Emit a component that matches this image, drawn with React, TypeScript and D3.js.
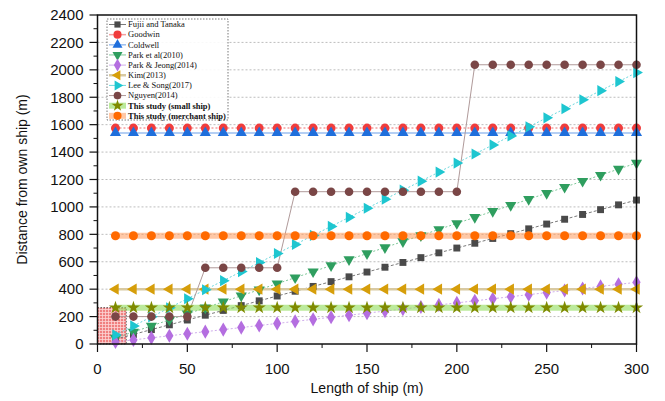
import * as d3 from "d3";

// ship length (m)
const lengths = [10, 20, 30, 40, 50, 60, 70, 80, 90, 100, 110, 120, 130, 140, 150, 160, 170, 180, 190, 200, 210, 220, 230, 240, 250, 260, 270, 280, 290, 300];

const fujiiTanaka = [35, 70, 105, 140, 175, 210, 245, 280, 315, 350, 385, 420, 455, 490, 525, 560, 595, 630, 665, 700, 735, 770, 805, 840, 875, 910, 945, 980, 1015, 1050];
const goodwin = [1575, 1575, 1575, 1575, 1575, 1575, 1575, 1575, 1575, 1575, 1575, 1575, 1575, 1575, 1575, 1575, 1575, 1575, 1575, 1575, 1575, 1575, 1575, 1575, 1575, 1575, 1575, 1575, 1575, 1575];
const coldwell = [1540, 1540, 1540, 1540, 1540, 1540, 1540, 1540, 1540, 1540, 1540, 1540, 1540, 1540, 1540, 1540, 1540, 1540, 1540, 1540, 1540, 1540, 1540, 1540, 1540, 1540, 1540, 1540, 1540, 1540];
const park2010 = [44, 88, 132, 176, 220, 264, 308, 352, 396, 440, 484, 528, 572, 616, 660, 704, 748, 792, 836, 880, 924, 968, 1012, 1056, 1100, 1144, 1188, 1232, 1276, 1320];
const parkJeong = [15, 30, 45, 60, 75, 90, 105, 120, 135, 150, 165, 180, 195, 210, 225, 240, 255, 270, 285, 300, 315, 330, 345, 360, 375, 390, 405, 420, 435, 450];
const kim = [400, 400, 400, 400, 400, 400, 400, 400, 400, 400, 400, 400, 400, 400, 400, 400, 400, 400, 400, 400, 400, 400, 400, 400, 400, 400, 400, 400, 400, 400];
const leeSong = [66, 132, 198, 264, 330, 396, 462, 528, 594, 660, 726, 792, 858, 924, 990, 1056, 1122, 1188, 1254, 1320, 1386, 1452, 1518, 1584, 1650, 1716, 1782, 1848, 1914, 1980];
const nguyen = [200, 200, 200, 200, 200, 556, 556, 556, 556, 556, 1111, 1111, 1111, 1111, 1111, 1111, 1111, 1111, 1111, 1111, 2037, 2037, 2037, 2037, 2037, 2037, 2037, 2037, 2037, 2037];
const smallShip = [265, 265, 265, 265, 265, 265, 265, 265, 265, 265, 265, 265, 265, 265, 265, 265, 265, 265, 265, 265, 265, 265, 265, 265, 265, 265, 265, 265, 265, 265];
const merchantShip = [790, 790, 790, 790, 790, 790, 790, 790, 790, 790, 790, 790, 790, 790, 790, 790, 790, 790, 790, 790, 790, 790, 790, 790, 790, 790, 790, 790, 790, 790];

// shaded zone in the lower-left corner
const zoneX = [0, 16];
const zoneY = [0, 265];

const xTicks = [0, 50, 100, 150, 200, 250, 300];
const xMinor = [25, 75, 125, 175, 225, 275];
const yTicks = [0, 200, 400, 600, 800, 1000, 1200, 1400, 1600, 1800, 2000, 2200, 2400];
const yMinor = [100, 300, 500, 700, 900, 1100, 1300, 1500, 1700, 1900, 2100, 2300];

const W = 665;
const H = 401;

type Series = {
  name: string;
  values: number[];
  symbol: d3.SymbolType;
  rotate: number;
  size: number;
  fill: string;
  line: string;
  lineWidth: number;
  dash?: string;
  lineOpacity?: number;
  bold?: boolean;
};

const series: Series[] = [
  { name: "Fujii and Tanaka", values: fujiiTanaka, symbol: d3.symbolSquare, rotate: 0, size: 48, fill: "#4a4a4a", line: "#7a7a7a", lineWidth: 1, dash: "3,2" },
  { name: "Goodwin", values: goodwin, symbol: d3.symbolCircle, rotate: 0, size: 64, fill: "#f03c3c", line: "#f4a0a0", lineWidth: 1.5, dash: "2,2" },
  { name: "Coldwell", values: coldwell, symbol: d3.symbolTriangle, rotate: 0, size: 54, fill: "#1f6fdc", line: "#9cbff0", lineWidth: 1.5 },
  { name: "Park et al(2010)", values: park2010, symbol: d3.symbolTriangle, rotate: 180, size: 54, fill: "#2f9e5f", line: "#7fc99a", lineWidth: 1, dash: "2,2" },
  { name: "Park & Jeong(2014)", values: parkJeong, symbol: d3.symbolDiamond, rotate: 0, size: 58, fill: "#b46ee0", line: "#cfaeeb", lineWidth: 1, dash: "2,2" },
  { name: "Kim(2013)", values: kim, symbol: d3.symbolTriangle, rotate: -90, size: 54, fill: "#d69e0a", line: "#d8c9a2", lineWidth: 2.5 },
  { name: "Lee & Song(2017)", values: leeSong, symbol: d3.symbolTriangle, rotate: 90, size: 54, fill: "#1ec6d0", line: "#6ad8de", lineWidth: 1, dash: "2,2" },
  { name: "Nguyen(2014)", values: nguyen, symbol: d3.symbolCircle, rotate: 0, size: 58, fill: "#7a4646", line: "#b09a9a", lineWidth: 1 },
  { name: "This study (small ship)", values: smallShip, symbol: d3.symbolStar, rotate: 0, size: 54, fill: "#7f8a00", line: "#8fdc5a", lineWidth: 6, lineOpacity: 0.6, bold: true },
  { name: "This study (merchant ship)", values: merchantShip, symbol: d3.symbolCircle, rotate: 0, size: 64, fill: "#ff6a00", line: "#ff9a5c", lineWidth: 6, lineOpacity: 0.55, bold: true },
];

export default function App() {
  const x = d3.scaleLinear().domain([0, 300]).range([97.5, 636.5]);
  const y = d3.scaleLinear().domain([0, 2400]).range([344, 15]);

  const line = d3
    .line<number>()
    .x((_, i) => x(lengths[i]))
    .y((v) => y(v));

  const sans = "'Liberation Sans', Arial, sans-serif";
  const serif = "'Liberation Serif', 'Times New Roman', serif";

  const legX = 107;
  const legY = 19;
  const rowH = 10.15;

  return (
    <svg width={W} height={H} style={{ position: "absolute", left: 0, top: 0, background: "#fff" }}>
      <defs>
        <pattern id="zoneGrid" width="3" height="3" patternUnits="userSpaceOnUse">
          <rect width="3" height="3" fill="#f08080" />
          <path d="M0,0.5H3M0.5,0V3" stroke="#fcd4d4" strokeWidth="0.8" />
        </pattern>
      </defs>

      {/* gridlines */}
      {yTicks.slice(1, -1).map((t) => (
        <line key={"g" + t} x1={x(0)} x2={x(300)} y1={y(t)} y2={y(t)} stroke="#bdbdbd" strokeWidth={1} strokeDasharray="2,2" />
      ))}

      {/* shaded zone */}
      <rect
        x={x(zoneX[0])}
        y={y(zoneY[1])}
        width={x(zoneX[1]) - x(zoneX[0])}
        height={y(zoneY[0]) - y(zoneY[1])}
        fill="url(#zoneGrid)"
        stroke="#333"
        strokeWidth={0.8}
        strokeDasharray="1.5,1.5"
      />

      {/* series lines */}
      {series.map((s) => (
        <path
          key={"l" + s.name}
          d={line(s.values) ?? ""}
          fill="none"
          stroke={s.line}
          strokeWidth={s.lineWidth}
          strokeDasharray={s.dash}
          strokeOpacity={s.lineOpacity ?? 1}
        />
      ))}

      {/* markers */}
      {series.map((s) => {
        const sym = d3.symbol().type(s.symbol).size(s.size)() ?? "";
        return (
          <g key={"m" + s.name}>
            {s.values.map((v, i) => (
              <path key={i} d={sym} transform={`translate(${x(lengths[i])},${y(v)}) rotate(${s.rotate})`} fill={s.fill} />
            ))}
          </g>
        );
      })}

      {/* frame */}
      <rect x={x(0)} y={y(2400)} width={x(300) - x(0)} height={y(0) - y(2400)} fill="none" stroke="#111" strokeWidth={1.5} />

      {/* y axis */}
      {yTicks.map((t) => (
        <g key={"yt" + t}>
          <line x1={x(0) - 8} x2={x(0)} y1={y(t)} y2={y(t)} stroke="#111" strokeWidth={1.2} />
          <text x={x(0) - 14} y={y(t)} dy="0.35em" textAnchor="end" fontSize={15} fontFamily={sans} fill="#111">
            {t}
          </text>
        </g>
      ))}
      {yMinor.map((t) => (
        <line key={"ym" + t} x1={x(0) - 4} x2={x(0)} y1={y(t)} y2={y(t)} stroke="#111" strokeWidth={1} />
      ))}

      {/* x axis */}
      {xTicks.map((t) => (
        <g key={"xt" + t}>
          <line x1={x(t)} x2={x(t)} y1={y(0)} y2={y(0) + 8} stroke="#111" strokeWidth={1.2} />
          <text x={x(t)} y={y(0) + 25} dy="0.35em" textAnchor="middle" fontSize={15} fontFamily={sans} fill="#111">
            {t}
          </text>
        </g>
      ))}
      {xMinor.map((t) => (
        <line key={"xm" + t} x1={x(t)} x2={x(t)} y1={y(0)} y2={y(0) + 4} stroke="#111" strokeWidth={1} />
      ))}

      <text x={(x(0) + x(300)) / 2} y={393} textAnchor="middle" fontSize={14} fontFamily={sans} fill="#111">
        Length of ship (m)
      </text>
      <text
        transform={`translate(27,${(y(0) + y(2400)) / 2}) rotate(-90)`}
        textAnchor="middle"
        fontSize={14}
        fontFamily={sans}
        fill="#111"
      >
        Distance from own ship (m)
      </text>

      {/* legend */}
      <rect x={legX} y={legY} width={121} height={101} fill="#fff" fillOpacity={0.9} stroke="#555" strokeWidth={0.8} strokeDasharray="1.5,1.5" />
      {series.map((s, i) => {
        const cy = legY + 5.5 + i * rowH;
        const sym = d3.symbol().type(s.symbol).size(s.size * 0.8)() ?? "";
        return (
          <g key={"lg" + s.name}>
            <line
              x1={legX + 2}
              x2={legX + 19}
              y1={cy}
              y2={cy}
              stroke={s.line}
              strokeWidth={s.lineWidth}
              strokeOpacity={s.lineOpacity ?? 1}
            />
            <path d={sym} transform={`translate(${legX + 10.5},${cy}) rotate(${s.rotate})`} fill={s.fill} />
            <text x={legX + 21} y={cy} dy="0.33em" fontSize={8.5} fontFamily={serif} fontWeight={s.bold ? "bold" : "normal"} fill="#111">
              {s.name}
            </text>
          </g>
        );
      })}
    </svg>
  );
}
